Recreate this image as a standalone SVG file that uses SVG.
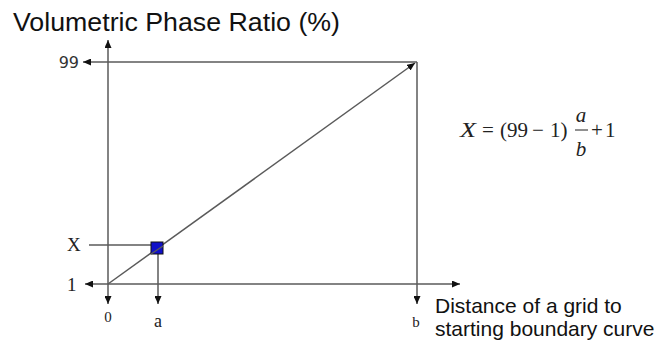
<svg xmlns="http://www.w3.org/2000/svg" width="660" height="345" viewBox="0 0 660 345">
  <defs>
    <marker id="ah" markerUnits="userSpaceOnUse" markerWidth="8" markerHeight="7" refX="8" refY="3.5" orient="auto">
      <path d="M0,0 L8,3.5 L0,7 z" fill="#111"/>
    </marker>
    <style>
      .ln { stroke:#5a5a5a; stroke-width:1.5; fill:none; }
      .sans { font-family:"Liberation Sans", Arial, sans-serif; fill:#111; }
      .serif { font-family:"Liberation Serif", "Times New Roman", serif; fill:#222; }
      .num { font-family:"DejaVu Sans", Verdana, sans-serif; fill:#333; }
    </style>
  </defs>
  <rect width="660" height="345" fill="#fff"/>
  <g id="title">
    <text class="sans" x="13" y="31" font-size="25" textLength="327" lengthAdjust="spacingAndGlyphs">Volumetric Phase Ratio (%)</text>
  </g>
  <g id="connectors">
    <line class="ln" x1="108" y1="284" x2="108" y2="40" marker-end="url(#ah)"/>
    <line class="ln" x1="108" y1="284" x2="108" y2="304" marker-end="url(#ah)"/>
    <line class="ln" x1="108" y1="284" x2="460" y2="284" marker-end="url(#ah)"/>
    <line class="ln" x1="108" y1="284" x2="85" y2="284" marker-end="url(#ah)"/>
    <line class="ln" x1="417" y1="62" x2="83" y2="62" marker-end="url(#ah)"/>
    <line class="ln" x1="417" y1="62" x2="417" y2="304" marker-end="url(#ah)"/>
    <line class="ln" x1="151" y1="245" x2="89" y2="245"/>
    <line class="ln" x1="158" y1="254" x2="158" y2="304" marker-end="url(#ah)"/>
    <line class="ln" x1="108" y1="284" x2="415" y2="63" marker-end="url(#ah)"/>
  </g>
  <g id="point">
    <rect x="151" y="242" width="12" height="12" fill="#1010c8" stroke="#111" stroke-width="1"/>
    <line class="ln" x1="151" y1="254" x2="163" y2="246"/>
  </g>
  <g id="labels">
    <text class="num" x="79" y="68" font-size="16" text-anchor="end">99</text>
    <text class="serif" x="67" y="251" font-size="19">X</text>
    <text class="serif" x="67" y="291" font-size="19">1</text>
    <text class="serif" x="108" y="322" font-size="15" text-anchor="middle">0</text>
    <text class="serif" x="158" y="327" font-size="18" text-anchor="middle">a</text>
    <text class="serif" x="416" y="327" font-size="15" text-anchor="middle">b</text>
  </g>
  <g id="xaxis-label">
    <text class="sans" x="435" y="313" font-size="21">Distance of a grid to</text>
    <text class="sans" x="435" y="336" font-size="21">starting boundary curve</text>
  </g>
  <g id="formula" class="serif" font-size="21">
    <text x="460" y="137" font-style="italic" font-size="22" textLength="16" lengthAdjust="spacingAndGlyphs">X</text>
    <text x="482" y="137">=</text>
    <text x="500" y="137">(99</text>
    <text x="532" y="137">−</text>
    <text x="550" y="137">1)</text>
    <text x="581" y="122" font-style="italic" text-anchor="middle">a</text>
    <line x1="575" y1="130" x2="588" y2="130" stroke="#222" stroke-width="1"/>
    <text x="581" y="156" font-style="italic" text-anchor="middle">b</text>
    <text x="591" y="137">+</text>
    <text x="605" y="137">1</text>
  </g>
</svg>
